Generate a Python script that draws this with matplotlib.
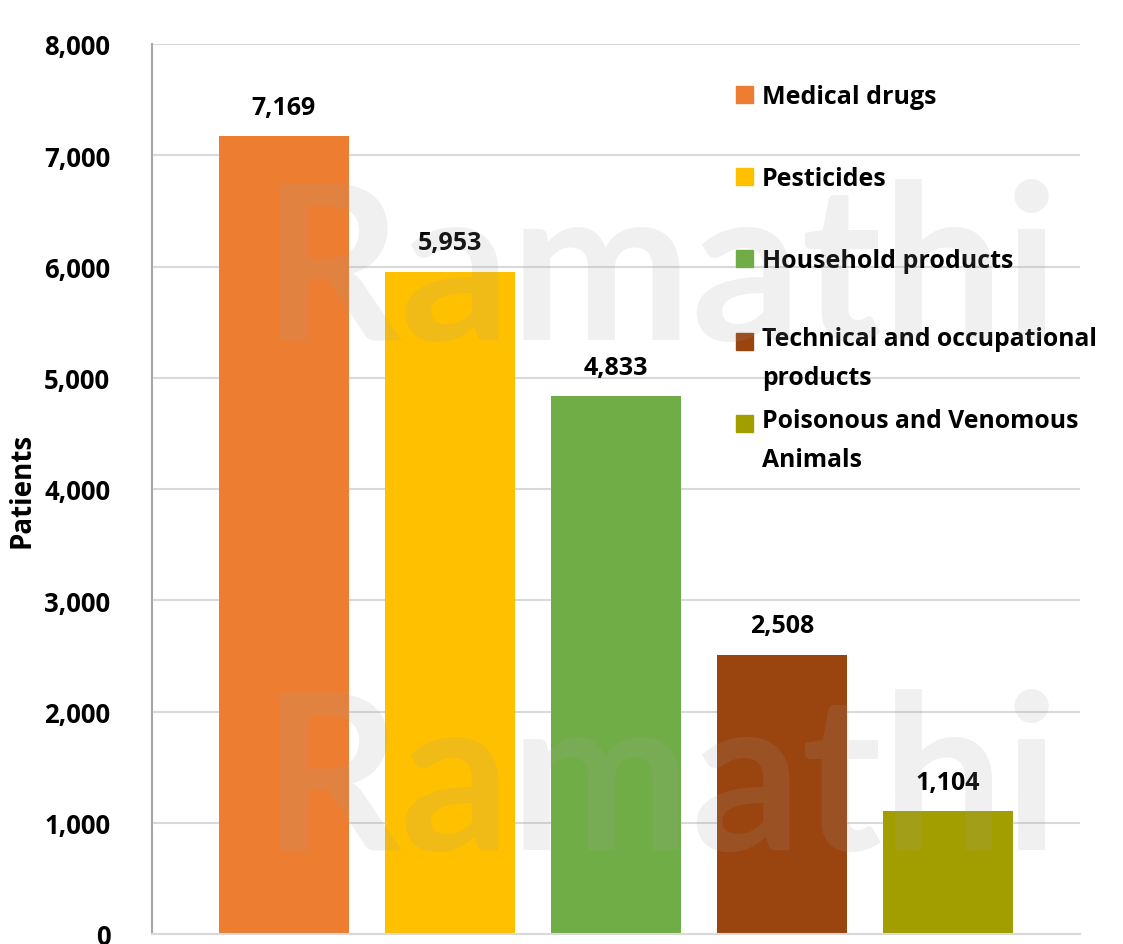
import matplotlib
matplotlib.use("Agg")
import matplotlib.pyplot as plt
from matplotlib.patches import Rectangle

categories = ["Medical drugs", "Pesticides", "Household products",
              "Technical and occupational products", "Poisonous and Venomous Animals"]
legend_labels = ["Medical drugs", "Pesticides", "Household products",
                 "Technical and occupational\nproducts", "Poisonous and Venomous\nAnimals"]
values = [7169, 5953, 4833, 2508, 1104]
colors = ["#ED7D31", "#FFC000", "#70AD47", "#9A4510", "#A39E00"]
yticks = [0, 1000, 2000, 3000, 4000, 5000, 6000, 7000, 8000]

plt.rcParams['font.family'] = ['Open Sans', 'DejaVu Sans']
plt.rcParams['font.weight'] = 'bold'

W, H = 1123, 945
fig = plt.figure(figsize=(W/100, H/100), dpi=100)
ax = fig.add_axes([152/W, 1-935/H, (1080-152)/W, (935-45)/H])

x = list(range(len(categories)))
ax.bar(x, values, width=0.78, color=colors, zorder=2)
for xi, v in zip(x, values):
    ax.annotate(f"{v:,}", (xi, v), xytext=(0, 12), textcoords="offset points",
                ha="center", va="bottom", fontsize=18, fontweight="bold", color="black")

ax.set_xlim(-0.795, 4.795)
ax.set_ylim(0, 8000)
ax.set_yticks(yticks)
ax.set_yticklabels([f"{t:,}" for t in yticks], fontsize=18.5, fontweight="bold")
ax.set_xticks([])
ax.tick_params(axis='y', length=0, pad=30)
ax.grid(axis='y', color="#D9D9D9", linewidth=1.5, zorder=0)
ax.set_axisbelow(True)
for s in ["top", "right"]:
    ax.spines[s].set_visible(False)
ax.spines["left"].set_color("#A6A6A6")
ax.spines["left"].set_linewidth(1.5)
ax.spines["bottom"].set_color("#D9D9D9")
ax.spines["bottom"].set_linewidth(1.5)
ax.set_ylabel("Patients", fontsize=20, fontweight="bold")
ax.yaxis.set_label_coords(-0.124, 0.5)

# legend drawn manually
leg_y = [95, 177, 259, 342, 424]
for lab, c, yy in zip(legend_labels, colors, leg_y):
    fig.patches.append(Rectangle((736/W, 1-(yy+9)/H), 17/W, 17/H,
                                 transform=fig.transFigure, color=c))
    if "\n" in lab:
        fig.text(762/W, 1-(yy-15)/H, lab, ha="left", va="top",
                 fontsize=17.8, fontweight="bold", linespacing=1.75)
    else:
        fig.text(762/W, 1-yy/H, lab, ha="left", va="center_baseline",
                 fontsize=18, fontweight="bold")

# watermark
for base in [340, 850]:
    fig.text(262/W, 1-base/H, "Ramathi", ha="left", va="baseline", fontsize=156,
             fontweight="bold", family="Lato", color="#A0A0A0", alpha=0.15, zorder=10)

fig.savefig("out.png", dpi=100)
